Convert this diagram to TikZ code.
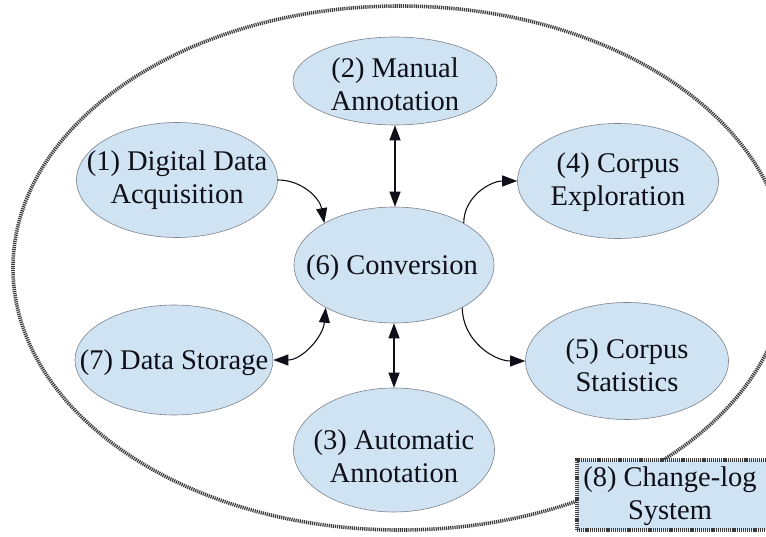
\documentclass[tikz,border=0pt]{standalone}
\usepackage{fontspec}
\setmainfont{Liberation Serif}
\usetikzlibrary{shapes.geometric,arrows.meta}
\definecolor{nodefill}{RGB}{207,227,243}
\definecolor{nodeline}{RGB}{125,130,140}
\definecolor{hatch}{RGB}{60,60,60}
\definecolor{txt}{RGB}{15,15,25}
\begin{document}
\begin{tikzpicture}[x=1pt,y=1pt,
  ell/.style={ellipse, draw=nodeline, line width=0.6pt, fill=nodefill, inner sep=0pt},
  lbl/.style={align=center, font=\fontsize{28.5}{33}\selectfont, text=txt, inner sep=0pt},
  conn/.style={line width=1.1pt, draw=txt},
  bigtip/.tip={Triangle[length=15pt,width=11pt]},
  hatched/.style={draw=hatch, line width=3.6pt, dash pattern=on 1.2pt off 0.9pt}
]
\useasboundingbox (0,0) rectangle (766,536);
\begin{scope}
  \clip (0,0) rectangle (766,536);
  \draw[hatched] (400,268) ellipse [x radius=387pt, y radius=262pt];
  \fill[nodefill] (577,6) rectangle (790,76);
  \draw[hatched] (577,6) rectangle (790,76);
\end{scope}
\node[lbl] (t8) at (670,40) {(8) Change-log\\System};

% ellipses
\node[ell, minimum width=204pt, minimum height=88pt] (n2) at (395,455) {};
\node[ell, minimum width=201pt, minimum height=115pt] (n1) at (177,356) {};
\node[ell, minimum width=200pt, minimum height=116pt] (n6) at (394,271) {};
\node[ell, minimum width=201pt, minimum height=115pt] (n4) at (618,355) {};
\node[ell, minimum width=198pt, minimum height=110pt] (n7) at (174,176) {};
\node[ell, minimum width=203pt, minimum height=117pt] (n5) at (627,175) {};
\node[ell, minimum width=201pt, minimum height=124pt] (n3) at (394,86) {};

% labels
\node[lbl] (t2) at (395,452) {(2) Manual\\Annotation};
\node[lbl] (t1) at (177,356) {(1) Digital Data\\Acquisition};
\node[lbl] (t6) at (392,268) {(6) Conversion};
\node[lbl] (t4) at (618,354) {(4) Corpus\\Exploration};
\node[lbl] (t7) at (174,173) {(7) Data Storage};
\node[lbl] (t5) at (627,171) {(5) Corpus\\Statistics};
\node[lbl] (t3) at (394,80) {(3) Automatic\\Annotation};

% connectors
\draw[conn, -bigtip] (n1.east) to[out=0,in=100] (n6.149);
\draw[conn, bigtip-bigtip] (n2.south) -- (n2.south |- n6.north);
\draw[conn, -bigtip] (n6.31) to[out=90,in=180] (n4.west);
\draw[conn, -bigtip] (n6.328) to[out=-90,in=180] (n5.west);
\draw[conn, bigtip-bigtip] (n7.east) to[out=0,in=-95] (n6.212);
\draw[conn, bigtip-bigtip] (n3.north) -- (n3.north |- n6.south);
\end{tikzpicture}
\end{document}
